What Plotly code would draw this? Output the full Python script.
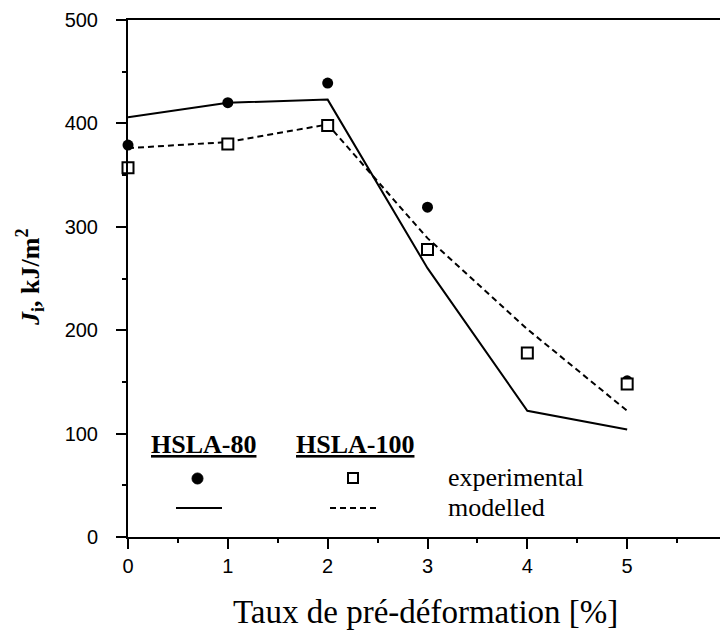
import plotly.graph_objects as go

# Data
strain = [0, 1, 2, 3, 4, 5]
hsla80_exp = [379, 420, 439, 319, None, 151]
hsla80_mod = [406, 420, 423, 260, 122, 104]
hsla100_exp = [357, 380, 398, 278, 178, 148]
hsla100_mod = [376, 382, 399, 289, 201, 122]

x_ticks = [0, 1, 2, 3, 4, 5, 6]
y_ticks = [0, 100, 200, 300, 400, 500]

# page body has an 8px margin; compensate so the plot lands where the reference has it
OFF = 8
W, H = 728 - OFF, 641 - OFF
L, T = 128 - OFF, 20 - OFF
B = H - (537 - OFF)
R = W - (727 - OFF)
pw, ph = W - L - R, H - T - B


def dx(px):
    return (px - OFF - L) / pw


def dy(py):
    return (H - B - (py - OFF)) / ph


fig = go.Figure()
fig.add_trace(go.Scatter(x=strain, y=hsla80_mod, mode="lines",
                         line=dict(color="black", width=2), showlegend=False, cliponaxis=False))
fig.add_trace(go.Scatter(x=strain, y=hsla100_mod, mode="lines",
                         line=dict(color="black", width=2, dash="6px,4px"), showlegend=False, cliponaxis=False))
fig.add_trace(go.Scatter(x=strain, y=hsla80_exp, mode="markers",
                         marker=dict(symbol="circle", size=11, color="black"), showlegend=False, cliponaxis=False))
fig.add_trace(go.Scatter(x=strain, y=hsla100_exp, mode="markers",
                         marker=dict(symbol="square", size=11, color="white",
                                     line=dict(color="black", width=2)), showlegend=False, cliponaxis=False))

tickfont = dict(family="Liberation Sans, Arial", size=20, color="black")
axis_common = dict(showline=True, linecolor="black", linewidth=2, mirror=True,
                   ticks="outside", ticklen=10, tickwidth=1.5, tickcolor="black",
                   showgrid=False, zeroline=False, automargin=False,
                   ticklabeloverflow="allow")

fig.update_xaxes(range=[0, 6], tickvals=x_ticks, ticktext=[str(v) for v in x_ticks],
                 tickfont=tickfont,
                 minor=dict(ticks="outside", dtick=0.5, ticklen=4, tickcolor="black", tickwidth=1.5),
                 **axis_common)
fig.update_yaxes(range=[0, 500], tickvals=y_ticks, ticktext=[str(v) for v in y_ticks],
                 tickfont=tickfont, ticklabelstandoff=14,
                 minor=dict(ticks="outside", dtick=50, ticklen=4, tickcolor="black", tickwidth=1.5),
                 **axis_common)

serif = "Liberation Serif, Times New Roman, serif"


def note(text, px, py, size, xanchor="center", angle=0):
    return dict(text=text, xref="paper", yref="paper", x=dx(px), y=dy(py),
                xanchor=xanchor, yanchor="middle", textangle=angle, showarrow=False,
                font=dict(family=serif, size=size, color="black"))


ann = [
    note("Taux de pré-déformation [%]", 425, 612, 33),
    note("<b><i>J</i><sub>i</sub>, kJ/m<sup>2</sup></b>", 30, 277, 26, angle=-90),
    note("<b><u>HSLA-80</u></b>", 203, 444, 26),
    note("<b><u>HSLA-100</u></b>", 355, 444, 26),
    note("experimental", 446, 477, 26, xanchor="left"),
    note("modelled", 446, 507, 26, xanchor="left"),
]

shapes = [
    dict(type="circle", xref="paper", yref="paper",
         x0=dx(192), x1=dx(203), y0=dy(484), y1=dy(473),
         fillcolor="black", line=dict(color="black", width=1)),
    dict(type="rect", xref="paper", yref="paper",
         x0=dx(348), x1=dx(358), y0=dy(483), y1=dy(473),
         fillcolor="white", line=dict(color="black", width=2)),
    dict(type="line", xref="paper", yref="paper",
         x0=dx(176), x1=dx(222), y0=dy(508), y1=dy(508),
         line=dict(color="black", width=2)),
    dict(type="line", xref="paper", yref="paper",
         x0=dx(330), x1=dx(376), y0=dy(508), y1=dy(508),
         line=dict(color="black", width=2, dash="6px,4px")),
]

fig.update_layout(width=W, height=H, margin=dict(l=L, r=R, t=T, b=B),
                  paper_bgcolor="white", plot_bgcolor="white",
                  annotations=ann, shapes=shapes, showlegend=False)

fig.write_html("out.html")
